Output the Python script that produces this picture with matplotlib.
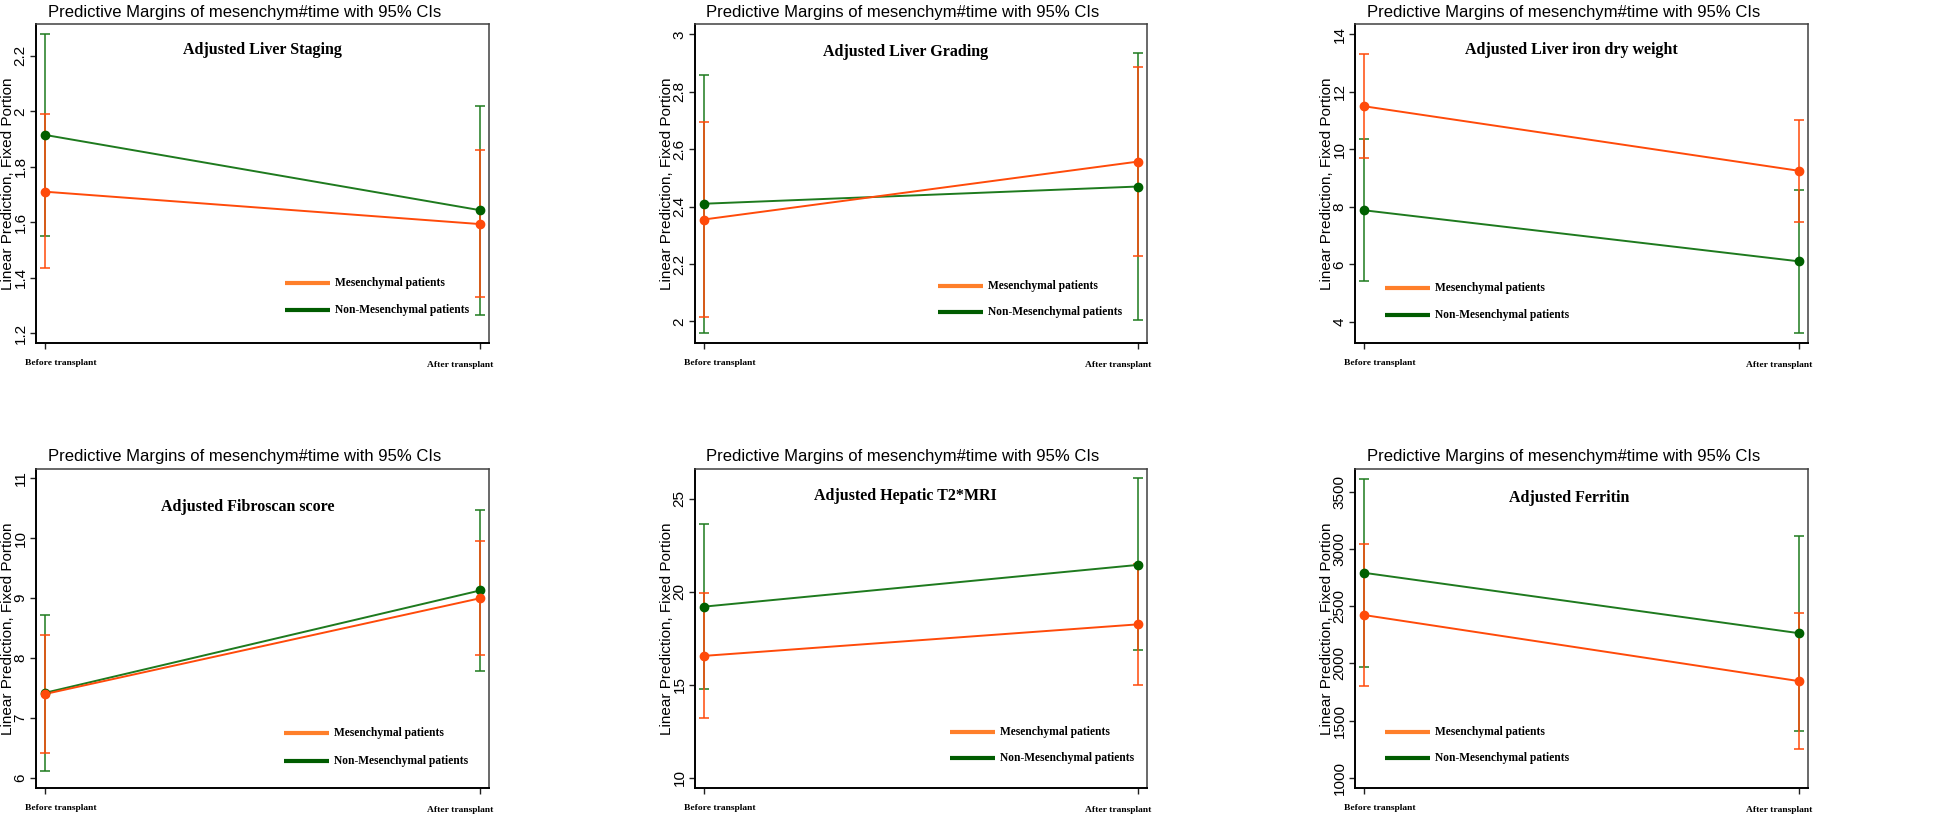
import matplotlib
matplotlib.use("Agg")
import matplotlib.pyplot as plt

# ---------------- data ----------------
times = ["Before transplant", "After transplant"]
groups = ["Mesenchymal patients", "Non-Mesenchymal patients"]
main_title = "Predictive Margins of mesenchym#time with 95% CIs"
ylabel = "Linear Prediction, Fixed Portion"

panel_titles = ["Adjusted Liver Staging", "Adjusted Liver Grading",
                "Adjusted Liver iron dry weight", "Adjusted Fibroscan score",
                "Adjusted Hepatic T2*MRI", "Adjusted Ferritin"]

# Mesenchymal patients (before, after)
mes_mean = [[1.71, 1.593], [2.355, 2.557], [11.5, 9.25], [7.40, 9.00], [16.55, 18.25], [2425, 1845]]
mes_lo = [[1.435, 1.33], [2.015, 2.228], [9.70, 7.47], [6.41, 8.06], [13.2, 15.0], [1805, 1255]]
mes_hi = [[1.99, 1.86], [2.695, 2.887], [13.3, 11.03], [8.39, 9.95], [19.95, 21.5], [3050, 2440]]

# Non-Mesenchymal patients (before, after)
non_mean = [[1.915, 1.643], [2.41, 2.47], [7.88, 6.10], [7.42, 9.13], [19.2, 21.45], [2795, 2265]]
non_lo = [[1.55, 1.265], [1.96, 2.005], [5.40, 3.60], [6.12, 7.78], [14.75, 16.85], [1970, 1405]]
non_hi = [[2.28, 2.02], [2.86, 2.935], [10.35, 8.60], [8.72, 10.48], [23.65, 26.1], [3620, 3120]]

ytick_values = [[1.2, 1.4, 1.6, 1.8, 2.0, 2.2],
                [2.0, 2.2, 2.4, 2.6, 2.8, 3.0],
                [4, 6, 8, 10, 12, 14],
                [6, 7, 8, 9, 10, 11],
                [10, 15, 20, 25],
                [1000, 1500, 2000, 2500, 3000, 3500]]
ytick_labels = [["1.2", "1.4", "1.6", "1.8", "2", "2.2"],
                ["2", "2.2", "2.4", "2.6", "2.8", "3"],
                ["4", "6", "8", "10", "12", "14"],
                ["6", "7", "8", "9", "10", "11"],
                ["10", "15", "20", "25"],
                ["1000", "1500", "2000", "2500", "3000", "3500"]]
ylims = [(1.164, 2.315), (1.925, 3.036), (3.26, 14.36),
         (5.833, 11.156), (9.44, 26.61), (909, 3704)]

# ---------------- style / layout ----------------
ORANGE = "#FF4A0A"
ORANGE_LEG = "#FF7F2A"
GREEN_LINE = "#1E7A1E"
GREEN_MK = "#006000"
GREEN_LEG = "#005C00"

SANS = ["Liberation Sans", "DejaVu Sans"]
SERIF = ["Liberation Serif", "DejaVu Serif"]

W, H = 1946, 818
fig = plt.figure(figsize=(W / 100, H / 100), dpi=100)
fig.patch.set_facecolor("white")

ax_px = [(36, 24, 453, 319), (695, 24, 452, 319), (1355, 24, 453, 319),
         (36, 469, 453, 319), (695, 469, 452, 319), (1355, 469, 453, 319)]
inner_pos = [(0.50, 0.918), (0.465, 0.912), (0.477, 0.918),
             (0.468, 0.880), (0.465, 0.915), (0.472, 0.909)]
legend_pos = [(0.55, 0.188, 0.103), (0.538, 0.18, 0.097), (0.066, 0.172, 0.088),
              (0.547, 0.172, 0.085), (0.564, 0.176, 0.094), (0.066, 0.176, 0.094)]

x = [0, 1]
for i in range(6):
    l, t, w, h = ax_px[i]
    ax = fig.add_axes([l / W, 1 - (t + h) / H, w / W, h / H])
    ax.set_xlim(-0.02, 1.02)
    ax.set_ylim(*ylims[i])

    # error bars
    for mean, lo, hi, col, z in [(non_mean[i], non_lo[i], non_hi[i], GREEN_LINE, 2),
                                 (mes_mean[i], mes_lo[i], mes_hi[i], ORANGE, 3)]:
        err = [[m - a for m, a in zip(mean, lo)], [b - m for m, b in zip(mean, hi)]]
        ax.errorbar(x, mean, yerr=err, fmt="none", ecolor=col, elinewidth=1.1,
                    capsize=3.5, capthick=1.1, zorder=z)
    # connecting lines
    ax.plot(x, non_mean[i], color=GREEN_LINE, lw=1.4, zorder=4)
    ax.plot(x, mes_mean[i], color=ORANGE, lw=1.4, zorder=4)
    # markers
    ax.plot(x, non_mean[i], "o", color=GREEN_MK, ms=6, zorder=5, clip_on=False)
    ax.plot(x, mes_mean[i], "o", color=ORANGE, ms=6, zorder=6, clip_on=False)

    # axes styling
    for s in ["top", "right"]:
        ax.spines[s].set_color("#404040")
        ax.spines[s].set_linewidth(1.1)
    for s in ["left", "bottom"]:
        ax.spines[s].set_color("black")
        ax.spines[s].set_linewidth(1.4)
    ax.set_yticks(ytick_values[i])
    ax.set_yticklabels(ytick_labels[i], family=SANS, fontsize=11,
                       rotation=90, va="center")
    ax.tick_params(axis="y", length=4, width=1, pad=2, color="#202020")
    ax.set_xticks(x)
    ax.set_xticklabels(["", ""])
    ax.tick_params(axis="x", length=4, width=1, color="#202020")

    ax.set_ylabel(ylabel, family=SANS, fontsize=11)
    ax.yaxis.set_label_coords(-21 / w, 0.5)

    # x category labels
    ax.text(0.037, -20 / h, times[0], transform=ax.get_xaxis_transform(),
            ha="center", va="center", family=SERIF, fontweight="bold", fontsize=6.8)
    ax.text(0.954, -22 / h, times[1], transform=ax.get_xaxis_transform(),
            ha="center", va="center", family=SERIF, fontweight="bold", fontsize=6.8)

    # titles
    ax.text(0.46, 1 + 12 / h, main_title, transform=ax.transAxes, ha="center",
            va="center", family=SANS, fontsize=12)
    ax.text(inner_pos[i][0], inner_pos[i][1], panel_titles[i], transform=ax.transAxes,
            ha="center", va="center", family=SERIF, fontweight="bold", fontsize=11.5)

    # legend
    lx, ly1, ly2 = legend_pos[i]
    seg = 45 / w
    ax.plot([lx, lx + seg], [ly1, ly1], color=ORANGE_LEG, lw=3, transform=ax.transAxes,
            solid_capstyle="butt")
    ax.plot([lx, lx + seg], [ly2, ly2], color=GREEN_LEG, lw=3, transform=ax.transAxes,
            solid_capstyle="butt")
    ax.text(lx + seg + 5 / w, ly1, groups[0], transform=ax.transAxes, ha="left",
            va="center", family=SERIF, fontweight="bold", fontsize=8.3)
    ax.text(lx + seg + 5 / w, ly2, groups[1], transform=ax.transAxes, ha="left",
            va="center", family=SERIF, fontweight="bold", fontsize=8.3)

fig.savefig("out.png", dpi=100, facecolor="white")
